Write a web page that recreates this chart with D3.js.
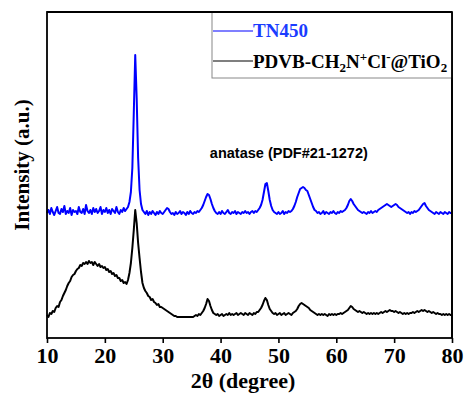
<!DOCTYPE html>
<html>
<head>
<meta charset="utf-8">
<script src="https://cdn.jsdelivr.net/npm/d3@7"></script>
<style>
  body { margin: 0; background: #fff; }
</style>
</head>
<body>
<div id="chart"></div>
<script>
// 2theta sampling grid, 0.25 deg steps from 10 to 80
const twoTheta = d3.range(10, 80.001, 0.25);

// intensity (a.u., arbitrary offset units)
const tn450 = [
  125,128,124,130,126,123,127,131,125,124,129,126,132,124,127,125,130,123,128,126,
  127,124,131,126,125,129,124,133,127,125,128,124,130,126,129,125,127,131,124,128,
  126,130,125,128,124,129,127,125,131,126,124,128,126,130,127,129,131,136,146,170,
  225,283,240,180,148,134,128,126,124,127,123,126,124,127,125,123,126,124,127,125,
  124,126,128,130,129,126,124,125,123,126,124,125,127,124,126,125,123,126,124,127,
  125,124,126,125,127,126,128,130,133,137,141,144,143,139,134,130,127,125,124,126,
  124,127,125,124,126,128,125,124,126,125,127,124,126,125,124,126,125,127,125,126,
  124,126,127,125,127,126,128,130,133,138,146,154,155,147,138,132,128,126,125,124,
  126,124,125,127,124,126,125,127,126,127,129,132,136,141,145,149,150,151,150,148,
  147,143,139,135,131,128,127,125,126,124,125,127,124,126,125,124,126,125,127,125,
  124,126,125,127,126,127,128,130,133,137,139,137,134,132,130,128,127,126,125,126,
  125,124,126,125,127,125,126,127,126,128,129,130,131,132,133,134,133,132,131,132,
  133,134,133,131,130,129,128,127,126,125,126,124,126,125,127,126,127,128,130,132,
  134,135,132,130,128,127,126,125,124,126,125,124,126,125,124,126,125,124,126,125,
  125
];

const pdvb = [
  23,21,25,24,27,26,30,32,31,36,38,42,45,48,52,55,57,61,63,64,
  67,69,70,73,72,75,74,76,74,77,75,76,73,76,74,72,74,71,72,70,
  71,68,69,66,67,64,65,62,63,60,60,57,58,55,56,54,58,65,75,90,
  108,128,115,95,80,66,55,50,47,45,42,41,38,39,36,35,33,34,31,31,
  30,29,28,27,26,25,24,23,22,22,21,21,21,21,21,21,21,21,21,21,
  21,21,22,23,22,24,23,25,27,30,34,39,37,32,28,25,24,23,24,22,
  23,24,22,23,24,23,25,23,24,23,24,25,23,24,25,24,23,25,24,23,
  25,24,23,25,24,26,26,28,30,33,37,40,38,33,29,27,25,24,25,23,
  24,25,23,24,25,23,24,25,24,23,25,26,27,29,32,34,35,34,33,32,
  31,30,28,27,26,25,24,23,24,23,24,23,24,23,22,24,23,24,23,24,
  23,24,24,25,24,25,26,27,28,30,32,31,29,28,27,26,27,26,25,26,
  25,24,25,24,25,24,25,24,25,24,25,26,25,26,27,26,27,28,27,27,
  26,27,26,25,26,25,24,25,24,25,24,25,25,26,25,26,27,26,27,28,
  27,28,27,26,27,26,25,26,25,24,25,24,24,23,24,23,24,23,24,23,
  23
];

const xTicks = [10, 20, 30, 40, 50, 60, 70, 80];
const annotation = 'anatase (PDF#21-1272)';

const width = 464, height = 397;
const margin = {top: 12, right: 12, bottom: 59, left: 47};
const w = width - margin.left - margin.right;
const h = height - margin.top - margin.bottom;
const serif = '"Liberation Serif", "Times New Roman", serif';

const svg = d3.select('#chart')
  .append('svg')
  .attr('width', width)
  .attr('height', height);

const g = svg.append('g')
  .attr('transform', `translate(${margin.left},${margin.top})`);

const x = d3.scaleLinear().domain([10, 80]).range([0, w]);
const y = d3.scaleLinear().domain([0, 326]).range([h, 0]);

const line = d3.line()
  .x((d, i) => x(twoTheta[i]))
  .y(d => y(d));

g.append('path')
  .datum(pdvb)
  .attr('fill', 'none')
  .attr('stroke', '#000')
  .attr('stroke-width', 2)
  .attr('stroke-linejoin', 'round')
  .attr('d', line);

g.append('path')
  .datum(tn450)
  .attr('fill', 'none')
  .attr('stroke', '#0000ff')
  .attr('stroke-width', 2)
  .attr('stroke-linejoin', 'round')
  .attr('d', line);

// x axis with outward ticks
const xAxis = g.append('g')
  .attr('transform', `translate(0,${h})`)
  .call(d3.axisBottom(x).tickValues(xTicks).tickSize(5).tickPadding(4).tickFormat(d3.format('d')));

xAxis.select('.domain').remove();
xAxis.selectAll('line').attr('stroke', '#000').attr('stroke-width', 1.6);
xAxis.selectAll('text')
  .attr('fill', '#000')
  .style('font-family', serif)
  .style('font-weight', 'bold')
  .style('font-size', '22px');

// frame
g.append('rect')
  .attr('width', w)
  .attr('height', h)
  .attr('fill', 'none')
  .attr('stroke', '#000')
  .attr('stroke-width', 1.8);

// legend
const legend = g.append('g').attr('transform', `translate(${x(10) + 165},0)`);
const lw = w - 165;
legend.append('rect')
  .attr('width', lw)
  .attr('height', 66)
  .attr('fill', '#fff')
  .attr('stroke', '#888')
  .attr('stroke-width', 1);
g.append('line')
  .attr('x1', 0).attr('x2', w).attr('y1', 0).attr('y2', 0)
  .attr('stroke', '#000').attr('stroke-width', 1.8);
g.append('line')
  .attr('x1', w).attr('x2', w).attr('y1', 0).attr('y2', h)
  .attr('stroke', '#000').attr('stroke-width', 1.8);

legend.append('line')
  .attr('x1', 1).attr('x2', 41).attr('y1', 19).attr('y2', 19)
  .attr('stroke', '#0000ff').attr('stroke-width', 1.2);
legend.append('text')
  .attr('x', 41).attr('y', 25)
  .attr('fill', '#1a3cff')
  .style('font-family', serif).style('font-weight', 'bold').style('font-size', '19px')
  .text('TN450');

legend.append('line')
  .attr('x1', 1).attr('x2', 41).attr('y1', 49).attr('y2', 49)
  .attr('stroke', '#000').attr('stroke-width', 1.2);
const t2 = legend.append('text')
  .attr('x', 41).attr('y', 56)
  .attr('fill', '#000')
  .style('font-family', serif).style('font-weight', 'bold').style('font-size', '19px');
t2.append('tspan').text('PDVB-CH');
t2.append('tspan').attr('dy', 4).style('font-size', '13px').text('2');
t2.append('tspan').attr('dy', -4).text('N');
t2.append('tspan').attr('dy', -7).style('font-size', '13px').text('+');
t2.append('tspan').attr('dy', 7).text('Cl');
t2.append('tspan').attr('dy', -7).style('font-size', '13px').text('-');
t2.append('tspan').attr('dy', 7).text('@TiO');
t2.append('tspan').attr('dy', 4).style('font-size', '13px').text('2');

// annotation
g.append('text')
  .attr('x', x(51.8))
  .attr('y', y(180))
  .attr('text-anchor', 'middle')
  .attr('fill', '#000')
  .style('font-family', '"Liberation Sans", Arial, sans-serif')
  .style('font-weight', 'bold')
  .style('font-size', '14.5px')
  .text(annotation);

// axis titles
svg.append('text')
  .attr('x', 243)
  .attr('y', 388)
  .attr('text-anchor', 'middle')
  .style('font-family', serif).style('font-weight', 'bold').style('font-size', '22px')
  .text('2θ (degree)');

svg.append('text')
  .attr('transform', 'translate(29,165) rotate(-90)')
  .attr('text-anchor', 'middle')
  .style('font-family', serif).style('font-weight', 'bold').style('font-size', '21px')
  .text('Intensity (a.u.)');
</script>
</body>
</html>
